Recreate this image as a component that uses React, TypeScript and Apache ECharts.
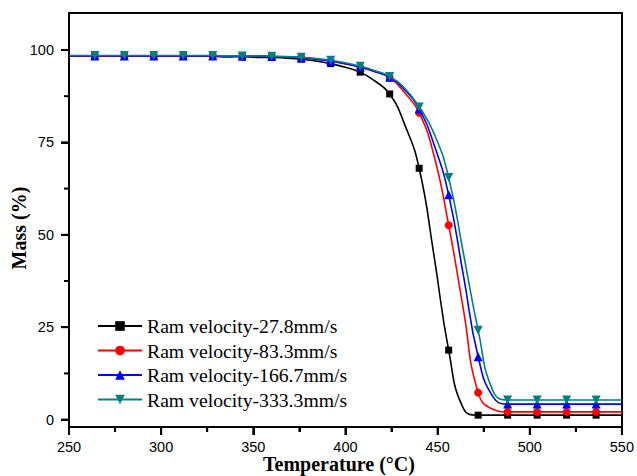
import React, { useEffect, useRef } from "react";
import * as echarts from "echarts";

// Temperatures (°C) where the markers sit
const markerTemps = [264, 280, 296, 312, 328, 344, 360, 376, 392, 408, 424, 440, 456, 472, 488, 504, 520, 536];
// Temperatures (°C) of the curve points between markers (no marker drawn)
const curveTemps = [250, 256, 272, 288, 304, 320, 336, 352, 368, 384, 400, 416, 432, 448, 464, 480, 496, 512, 528, 544, 550];

// Mass (%) at the marker temperatures
const mass27 = [98.3, 98.3, 98.3, 98.3, 98.3, 98.2, 98.0, 97.5, 96.3, 94.0, 88.1, 68.0, 18.8, 1.2, 1.2, 1.2, 1.2, 1.2];
const mass83 = [98.4, 98.4, 98.4, 98.4, 98.4, 98.3, 98.2, 97.9, 97.0, 95.3, 92.5, 83.0, 52.6, 7.3, 2.1, 2.1, 2.1, 2.1];
const mass166 = [98.4, 98.4, 98.4, 98.4, 98.4, 98.3, 98.2, 97.9, 97.0, 95.4, 92.6, 84.0, 60.8, 17.0, 4.2, 4.2, 4.2, 4.2];
const mass333 = [98.5, 98.5, 98.5, 98.5, 98.5, 98.4, 98.3, 98.0, 97.2, 95.6, 92.8, 84.6, 65.5, 24.2, 5.3, 5.3, 5.3, 5.3];

// Mass (%) at the in-between curve temperatures
const curve27 = [98.3, 98.3, 98.3, 98.3, 98.3, 98.3, 98.1, 98.0, 97.8, 97.0, 95.3, 91.6, 80.0, 44.5, 3.0, 1.2, 1.2, 1.2, 1.2, 1.2, 1.2];
const curve83 = [98.4, 98.4, 98.4, 98.4, 98.4, 98.4, 98.3, 98.3, 98.1, 97.5, 96.2, 94.1, 88.5, 71.5, 29.8, 2.8, 2.1, 2.1, 2.1, 2.1, 2.1];
const curve166 = [98.4, 98.4, 98.4, 98.4, 98.4, 98.4, 98.3, 98.3, 98.1, 97.5, 96.3, 94.2, 89.3, 74.5, 39.0, 6.2, 4.2, 4.2, 4.2, 4.2, 4.2];
const curve333 = [98.5, 98.5, 98.5, 98.5, 98.5, 98.5, 98.4, 98.4, 98.2, 97.7, 96.5, 94.4, 89.7, 77.5, 45.0, 7.8, 5.3, 5.3, 5.3, 5.3, 5.3];

const seriesNames = [
  "Ram velocity-27.8mm/s",
  "Ram velocity-83.3mm/s",
  "Ram velocity-166.7mm/s",
  "Ram velocity-333.3mm/s",
];

const xMajorTicks = [250, 300, 350, 400, 450, 500, 550];
const xMinorTicks = [275, 325, 375, 425, 475, 525];
const yTicks = [0, 25, 50, 75, 100];
const yMinorTicks = [12.5, 37.5, 62.5, 87.5];

const X_MIN = 250;
const X_MAX = 550;
const Y_MIN = -2;
const Y_MAX = 110;

function buildData(vals: number[], extra: number[]) {
  const pts: any[] = markerTemps.map((t, i) => ({ value: [t, vals[i]] }));
  curveTemps.forEach((t, i) => pts.push({ value: [t, extra[i]], symbol: "none" }));
  pts.sort((a, b) => a.value[0] - b.value[0]);
  return pts;
}

export default function App() {
  const ref = useRef<HTMLDivElement>(null);
  useEffect(() => {
    if (!ref.current) return;
    const chart = echarts.init(ref.current, null, { renderer: "svg" });
    const serif = "'Times New Roman', 'Liberation Serif', serif";
    const sans = "Arial, 'Liberation Sans', sans-serif";
    const colors = ["#000000", "#ff0000", "#0000ff", "#008080"];
    const symbols = ["rect", "circle", "triangle", "triangle"];
    const sizes = [7, 8, 9, 9];
    const rotates = [0, 0, 0, 180];
    const datasets = [
      buildData(mass27, curve27),
      buildData(mass83, curve83),
      buildData(mass166, curve166),
      buildData(mass333, curve333),
    ];
    const grid = { left: 69, right: 12, top: 13, bottom: 49 };

    const titles: any[] = [
      {
        type: "text",
        x: 339,
        y: 464,
        style: {
          text: "Temperature (°C)",
          font: `bold 20px ${serif}`,
          fill: "#000",
          textAlign: "center",
          textVerticalAlign: "middle",
        },
      },
      {
        type: "text",
        x: 19,
        y: 228,
        rotation: Math.PI / 2,
        style: {
          text: "Mass (%)",
          font: `bold 20px ${serif}`,
          fill: "#000",
          textAlign: "center",
          textVerticalAlign: "middle",
        },
      },
    ];

    chart.setOption({
      animation: false,
      backgroundColor: "#ffffff",
      grid: { ...grid, show: false },
      legend: {
        orient: "vertical",
        left: 97,
        top: 316,
        padding: 0,
        itemWidth: 44,
        itemHeight: 12,
        itemGap: 4.5,
        textStyle: { fontFamily: serif, fontSize: 19.7, color: "#000" },
        data: seriesNames,
      },
      xAxis: [
        {
          type: "value",
          position: "bottom",
          min: X_MIN,
          max: X_MAX,
          interval: 50,
          axisLine: { show: true, onZero: false, lineStyle: { color: "#000", width: 2 } },
          axisTick: { show: true, length: 8, lineStyle: { color: "#000", width: 2 } },
          minorTick: { show: true, splitNumber: 2, length: 5, lineStyle: { color: "#000", width: 2 } },
          splitLine: { show: false },
          axisLabel: { show: true, fontFamily: sans, fontSize: 14.5, color: "#000", margin: 12 },
        },
        {
          type: "value",
          position: "top",
          min: X_MIN,
          max: X_MAX,
          interval: 50,
          axisLine: { show: true, onZero: false, lineStyle: { color: "#000", width: 2 } },
          axisTick: { show: false },
          splitLine: { show: false },
          axisLabel: { show: false },
        },
      ],
      yAxis: [
        {
          type: "value",
          position: "left",
          min: Y_MIN,
          max: Y_MAX,
          axisLine: { show: true, onZero: false, lineStyle: { color: "#000", width: 2 } },
          axisTick: { show: true, length: 8, customValues: yTicks, lineStyle: { color: "#000", width: 2 } },
          splitLine: { show: false },
          axisLabel: { show: true, fontFamily: sans, fontSize: 14.5, color: "#000", margin: 15, customValues: yTicks },
        },
        {
          type: "value",
          position: "right",
          min: Y_MIN,
          max: Y_MAX,
          axisLine: { show: true, onZero: false, lineStyle: { color: "#000", width: 2 } },
          axisTick: { show: false },
          splitLine: { show: false },
          axisLabel: { show: false },
        },
      ],
      graphic: titles,
      series: seriesNames.map((name, i) => ({
        name,
        type: "line",
        xAxisIndex: 0,
        yAxisIndex: 0,
        data: datasets[i],
        smooth: 0.5,
        symbol: symbols[i],
        symbolSize: sizes[i],
        symbolRotate: rotates[i],
        showAllSymbol: true,
        color: colors[i],
        lineStyle: { color: colors[i], width: 1.6 },
        itemStyle: { color: colors[i] },
        z: 2 + i,
      })),
    });

    // tick marks: positions from the axes' scales (fallback: grid geometry)
    const W = 637;
    const H = 476;
    const toPx = (xv: number, yv: number): number[] => {
      let p: any = null;
      try {
        p = chart.convertToPixel({ xAxisIndex: 0, yAxisIndex: 0 }, [xv, yv]);
      } catch (e) {
        p = null;
      }
      if (p && isFinite(p[0]) && isFinite(p[1])) return p;
      const x = grid.left + ((xv - X_MIN) / (X_MAX - X_MIN)) * (W - grid.left - grid.right);
      const y = H - grid.bottom - ((yv - Y_MIN) / (Y_MAX - Y_MIN)) * (H - grid.top - grid.bottom);
      return [x, y];
    };
    const ticks: any[] = [];
    const addX = (v: number, len: number) => {
      const p = toPx(v, Y_MIN);
      ticks.push({
        type: "line",
        silent: true,
        z: 100,
        shape: { x1: p[0], y1: p[1], x2: p[0], y2: p[1] + len },
        style: { stroke: "#000", lineWidth: 2 },
      });
    };
    const addY = (v: number, len: number) => {
      const p = toPx(X_MIN, v);
      ticks.push({
        type: "line",
        silent: true,
        z: 100,
        shape: { x1: p[0] - len, y1: p[1], x2: p[0], y2: p[1] },
        style: { stroke: "#000", lineWidth: 2 },
      });
    };
    xMajorTicks.forEach((v) => addX(v, 8));
    xMinorTicks.forEach((v) => addX(v, 5));
    yTicks.forEach((v) => addY(v, 8));
    yMinorTicks.forEach((v) => addY(v, 5));
    chart.setOption({ graphic: [...titles, ...ticks] });

    return () => chart.dispose();
  }, []);
  return (
    <div
      ref={ref}
      style={{ position: "fixed", left: 0, top: 0, width: 637, height: 476 }}
    />
  );
}
